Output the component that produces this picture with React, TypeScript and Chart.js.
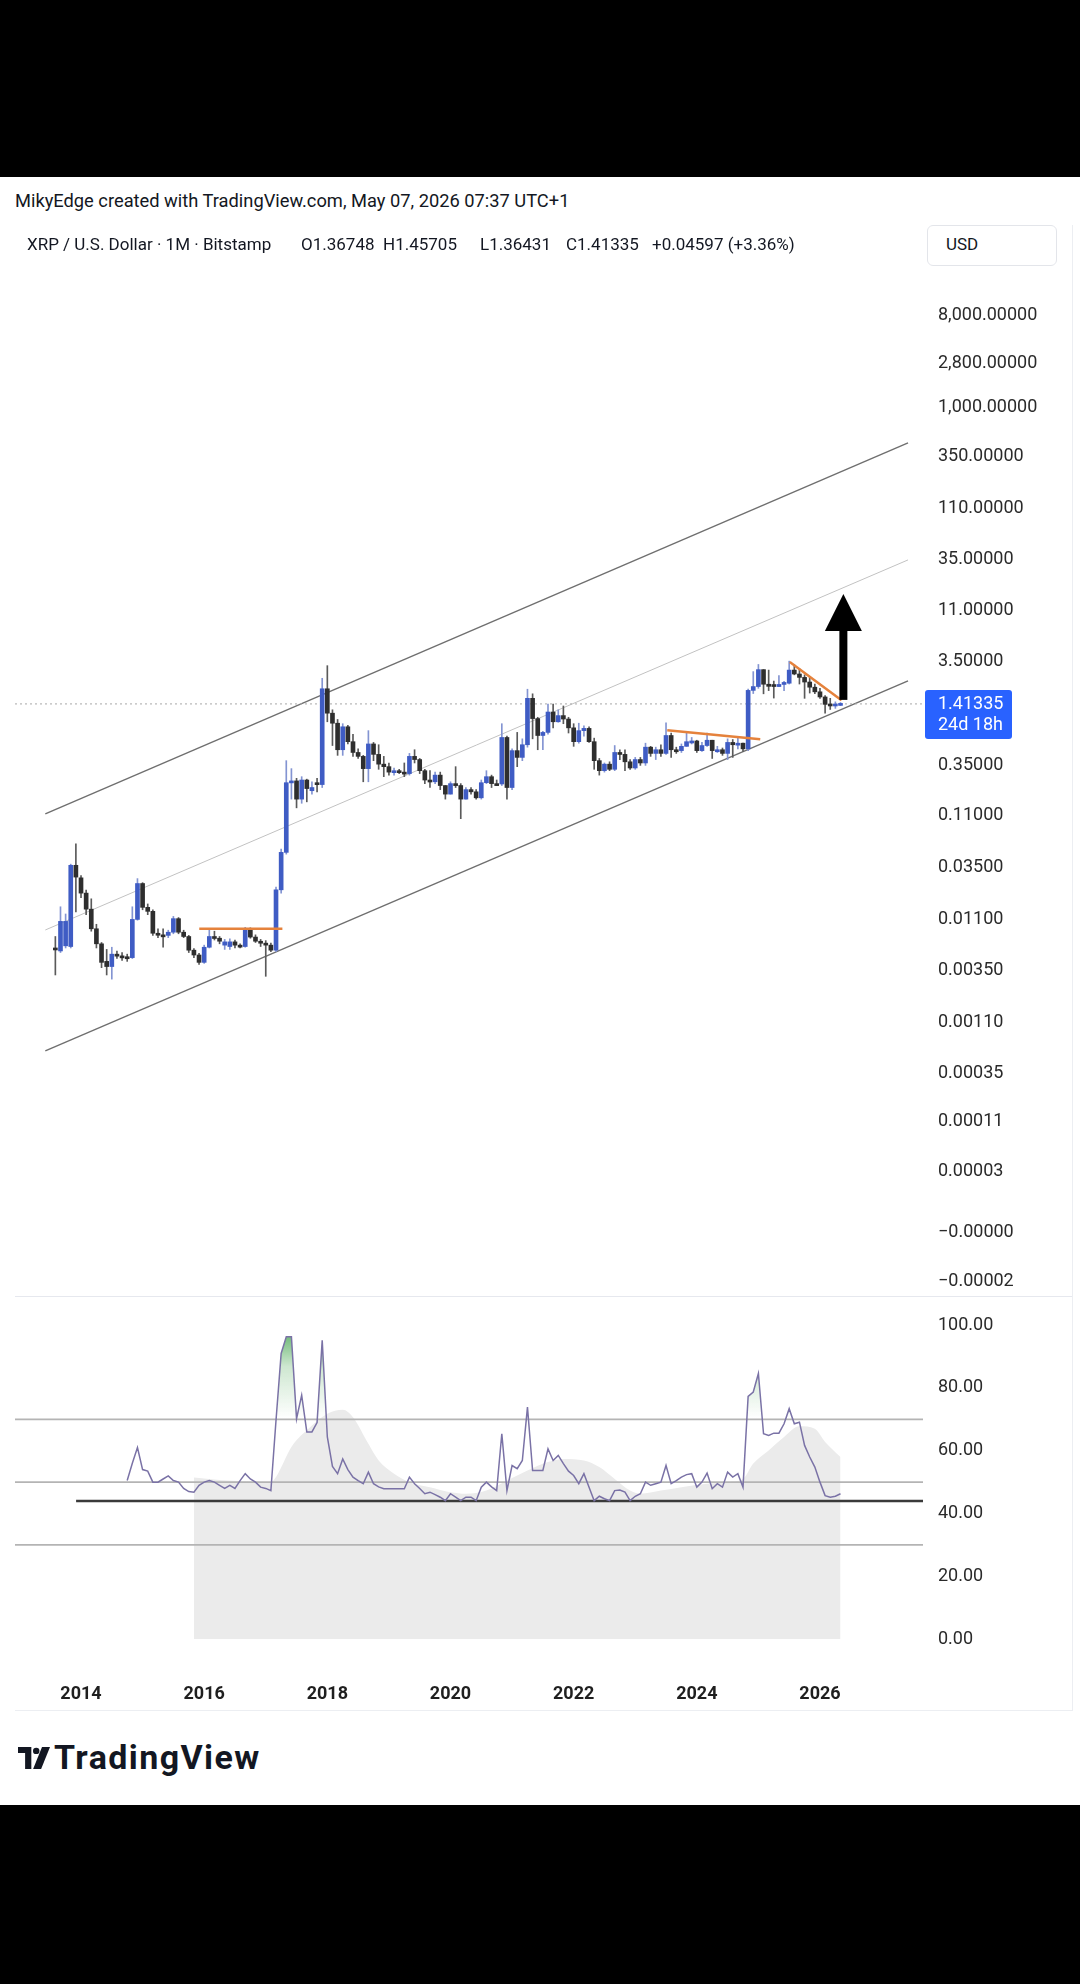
import React, { useEffect, useRef } from "react";
import { Chart, registerables } from "chart.js";

Chart.register(...registerables);
Chart.defaults.font.family = "Roboto, 'Liberation Sans', sans-serif";

// ---------------- data ----------------
const FIRST_MONTH = "2013-08";

const OPEN = [
  0.0062, 0.0058, 0.0065, 0.0064, 0.039,
  0.0295, 0.021, 0.0147, 0.0095, 0.0068, 0.0046, 0.0041, 0.0054, 0.0052, 0.0051, 0.005, 0.0117,
  0.026, 0.0153, 0.014, 0.0086, 0.0083, 0.0082, 0.0088, 0.0119, 0.0088, 0.008, 0.0059, 0.0053,
  0.0045, 0.0063, 0.008, 0.0077, 0.0066, 0.0064, 0.0071, 0.0066, 0.0064, 0.0094, 0.0079, 0.0072,
  0.0069, 0.0066, 0.0059, 0.0226, 0.052, 0.245, 0.255, 0.17, 0.26, 0.205, 0.245, 0.235,
  1.98, 1.15, 0.92, 0.51, 0.85, 0.61, 0.48, 0.44, 0.335, 0.58, 0.46, 0.37,
  0.35, 0.31, 0.32, 0.31, 0.3, 0.44, 0.41, 0.32, 0.26, 0.25, 0.29, 0.23,
  0.19, 0.24, 0.23, 0.17, 0.21, 0.2, 0.175, 0.245, 0.28, 0.24, 0.238, 0.67,
  0.22, 0.5, 0.43, 0.57, 1.6, 1.02, 0.7, 0.75, 1.18, 0.95, 1.09, 1.01,
  0.83, 0.61, 0.78, 0.82, 0.61, 0.4, 0.32, 0.37, 0.33, 0.48, 0.46, 0.39,
  0.34, 0.41, 0.38, 0.54, 0.47, 0.51, 0.47, 0.7, 0.51, 0.5, 0.55, 0.61,
  0.62, 0.5, 0.56, 0.63, 0.5, 0.51, 0.47, 0.6, 0.57, 0.59, 0.52, 1.91,
  2.08, 3.03, 2.19, 2.09, 2.08, 2.18, 2.24, 3.0, 2.75, 2.55, 2.3, 2.05,
  1.85, 1.65, 1.4, 1.35, 1.36748,
];
const HIGH = [
  0.008, 0.0155, 0.0132, 0.04, 0.063,
  0.031, 0.0225, 0.0185, 0.0105, 0.007, 0.006, 0.0063, 0.0058, 0.0056, 0.0054, 0.0155, 0.029,
  0.0265, 0.0165, 0.0145, 0.0095, 0.0095, 0.0092, 0.0125, 0.0122, 0.0092, 0.0082, 0.0061, 0.0055,
  0.0066, 0.0092, 0.009, 0.008, 0.0075, 0.0076, 0.0074, 0.0068, 0.0098, 0.0097, 0.0083, 0.0075,
  0.0073, 0.0069, 0.024, 0.056, 0.4, 0.335, 0.27, 0.28, 0.265, 0.25, 0.27, 2.5,
  3.31, 1.24, 1.0, 0.91, 0.88, 0.72, 0.52, 0.45, 0.78, 0.6, 0.57, 0.44,
  0.38, 0.34, 0.33, 0.38, 0.47, 0.51, 0.42, 0.33, 0.32, 0.31, 0.31, 0.23,
  0.25, 0.35, 0.24, 0.22, 0.22, 0.21, 0.26, 0.32, 0.29, 0.26, 0.91, 0.69,
  0.52, 0.75, 0.65, 1.96, 1.77, 1.05, 0.77, 1.41, 1.41, 1.24, 1.35, 1.05,
  0.91, 0.92, 0.87, 0.85, 0.66, 0.42, 0.38, 0.39, 0.56, 0.51, 0.51, 0.41,
  0.43, 0.43, 0.59, 0.55, 0.54, 0.57, 0.93, 0.74, 0.54, 0.58, 0.74, 0.67,
  0.63, 0.6, 0.74, 0.63, 0.55, 0.53, 0.65, 0.64, 0.66, 0.59, 1.97, 2.9,
  3.4, 3.03, 3.0, 2.35, 2.65, 2.34, 3.66, 3.38, 3.1, 2.7, 2.6, 2.2,
  2.0, 1.7, 1.6, 1.48, 1.45705,
];
const LOW = [
  0.0034, 0.0056, 0.0062, 0.0062, 0.0138,
  0.019, 0.013, 0.009, 0.0062, 0.004, 0.0034, 0.0031, 0.0049, 0.0047, 0.0046, 0.0049, 0.0115,
  0.0145, 0.013, 0.0082, 0.0078, 0.0063, 0.0078, 0.0085, 0.0085, 0.0078, 0.0056, 0.005, 0.0043,
  0.0044, 0.0062, 0.0074, 0.0068, 0.006, 0.006, 0.0062, 0.0062, 0.0063, 0.0077, 0.007, 0.0064,
  0.0033, 0.0057, 0.0057, 0.021, 0.05, 0.17, 0.14, 0.155, 0.16, 0.19, 0.2, 0.22,
  0.95, 0.56, 0.45, 0.45, 0.58, 0.44, 0.42, 0.25, 0.25, 0.4, 0.33, 0.28,
  0.29, 0.29, 0.3, 0.28, 0.29, 0.38, 0.3, 0.24, 0.22, 0.24, 0.21, 0.17,
  0.19, 0.22, 0.11, 0.17, 0.19, 0.17, 0.17, 0.24, 0.22, 0.23, 0.23, 0.17,
  0.21, 0.35, 0.4, 0.54, 0.65, 0.51, 0.51, 0.72, 0.83, 0.94, 0.91, 0.74,
  0.55, 0.59, 0.69, 0.6, 0.33, 0.29, 0.31, 0.32, 0.32, 0.41, 0.32, 0.33,
  0.33, 0.36, 0.36, 0.44, 0.41, 0.44, 0.46, 0.43, 0.47, 0.48, 0.55, 0.58,
  0.48, 0.49, 0.55, 0.42, 0.48, 0.45, 0.41, 0.43, 0.52, 0.49, 0.5, 1.78,
  2.0, 1.77, 1.9, 1.61, 2.07, 1.9, 2.2, 2.7, 2.2, 1.6, 1.8, 1.78,
  1.6, 1.15, 1.25, 1.28, 1.36431,
];
const CLOSE = [
  0.006, 0.0112, 0.0112, 0.039, 0.03,
  0.021, 0.0147, 0.0095, 0.0068, 0.0045, 0.0041, 0.0054, 0.0052, 0.0051, 0.005, 0.0117, 0.026,
  0.0153, 0.014, 0.0086, 0.0083, 0.0082, 0.0088, 0.0119, 0.0088, 0.008, 0.0059, 0.0053, 0.0045,
  0.0063, 0.008, 0.0077, 0.0072, 0.0071, 0.0071, 0.0066, 0.0065, 0.0094, 0.0079, 0.0072, 0.0069,
  0.0066, 0.0059, 0.0226, 0.052, 0.245, 0.255, 0.17, 0.26, 0.215, 0.22, 0.235, 1.98,
  1.15, 0.92, 0.51, 0.85, 0.61, 0.48, 0.44, 0.335, 0.58, 0.46, 0.37, 0.35,
  0.31, 0.32, 0.31, 0.3, 0.44, 0.41, 0.32, 0.26, 0.25, 0.29, 0.23, 0.19,
  0.24, 0.23, 0.17, 0.21, 0.2, 0.175, 0.245, 0.28, 0.24, 0.238, 0.67, 0.22,
  0.5, 0.43, 0.57, 1.6, 1.02, 0.7, 0.75, 1.18, 0.95, 1.09, 1.01, 0.83,
  0.61, 0.78, 0.82, 0.61, 0.4, 0.32, 0.37, 0.33, 0.48, 0.46, 0.39, 0.34,
  0.41, 0.38, 0.54, 0.47, 0.51, 0.47, 0.7, 0.51, 0.5, 0.55, 0.61, 0.62,
  0.5, 0.56, 0.63, 0.5, 0.51, 0.47, 0.6, 0.57, 0.59, 0.52, 1.91, 2.08,
  3.03, 2.19, 2.09, 2.08, 2.18, 2.24, 3.0, 2.75, 2.55, 2.3, 2.05, 1.85,
  1.65, 1.4, 1.35, 1.3675, 1.41335,
];

const LAST_PRICE = 1.41335;
const COUNTDOWN = "24d 18h";

const RSI_START = "2014-10";
const RSI = [
  50.5, 56, 61,
  54, 53.5, 50, 50, 51, 52, 50.5, 50, 48, 47, 46.8, 49,
  50, 50.5, 50, 49, 48, 49, 48, 50.5, 52.7, 51, 50, 48.4,
  48, 47.3, 69.7, 91, 96.3, 96.3, 70.2, 77.7, 66, 66, 69, 95.2,
  64.4, 55, 52.7, 57.4, 54, 51.6, 50.5, 49.5, 53.2, 49.5, 48.5, 47.9,
  47.9, 47.9, 47.9, 47.9, 51.6, 49.5, 48, 46.3, 46.8, 46, 45.2, 44.1,
  46.3, 45.2, 44.1, 45.2, 45.2, 44.1, 48.4, 50, 48.5, 47.3, 65.4, 47.3,
  55.3, 54.3, 56.9, 73.9, 53.7, 53.7, 53.7, 60.6, 56.9, 58.5, 55.9, 53.5,
  52.1, 49.5, 52.7, 48.4, 44.1, 45.5, 44.7, 44.1, 47.3, 47.5, 46.8, 44.1,
  45.5, 46.3, 50, 49, 49.5, 50, 55.3, 49.5, 50.5, 51.6, 52.4, 52.7,
  48.4, 50, 52.9, 47.9, 49.5, 48.4, 53.2, 51.6, 52.7, 48.4, 77.3, 78.7,
  84.6, 65.4, 64.9, 65.6, 65.6, 68.6, 73.4, 68.6, 69.1, 61.7, 58, 54.8,
  50, 45.7, 45.2, 45.5, 46.3,
];

const RSI_MA_MONTHS = [
  "2015-11", "2016-04", "2016-09", "2017-02", "2017-03", "2017-06", "2017-09", "2018-01",
  "2018-04", "2018-06", "2018-09", "2018-11", "2019-02", "2019-05", "2019-09", "2020-01",
  "2020-04", "2020-08", "2020-12", "2021-04", "2021-08", "2021-11", "2022-03", "2022-06",
  "2022-09", "2022-12", "2023-02", "2023-06", "2023-10", "2024-03", "2024-07", "2024-10",
  "2024-12", "2025-03", "2025-06", "2025-09", "2025-12", "2026-02", "2026-05",
];
const RSI_MA = [
  51.5, 50.7, 50.3, 50, 51.6, 61.2, 66.5, 71.8,
  73.1, 70.7, 62.2, 56.9, 52.7, 50, 48.4, 46.8,
  46.3, 47.3, 50.5, 53.7, 56.4, 57.4, 56.9, 54.8,
  51, 47.3, 46.3, 47.3, 48.4, 49.5, 50, 51,
  55.9, 60.1, 64.4, 67.8, 67, 62.8, 58,
];

const RSI_LEVELS = [70, 50, 30];
const RSI_SUPPORT = 44;
const RSI_SUPPORT_FROM = 2013.92;

const PRICE_TICK_LABELS = [
  "8,000.00000", "2,800.00000", "1,000.00000", "350.00000", "110.00000", "35.00000",
  "11.00000", "3.50000", "0.35000", "0.11000", "0.03500", "0.01100", "0.00350",
  "0.00110", "0.00035", "0.00011", "0.00003", "\u22120.00000", "\u22120.00002",
];
// axis value (log10 of price) at which each label sits
const PRICE_TICK_LEVELS = [
  3.899, 3.435, 3.01, 2.536, 2.034, 1.541, 1.049, 0.556, -0.449, -0.932, -1.435,
  -1.937, -2.43, -2.923, -3.416, -3.884, -4.363, -4.952, -5.435,
];
const RSI_TICKS = [0, 20, 40, 60, 80, 100];
const YEAR_TICKS = [2014, 2016, 2018, 2020, 2022, 2024, 2026];

// channel (dates as decimal years, prices)
const CHANNEL_X = [2013.42, 2027.43];
const CHANNEL_UPPER = [0.1222, 470];
const CHANNEL_MID = [0.00925, 34.8];
const CHANNEL_LOWER = [0.000627, 2.355];

// orange trend lines
const TREND_2016_X = [2015.92, 2017.27];
const TREND_2016_Y = [0.0095, 0.0095];
const TREND_2024_X = [2023.52, 2025.03];
const TREND_2024_Y = [0.787, 0.644];
const TREND_2025_X = [2025.51, 2026.35];
const TREND_2025_Y = [3.6, 1.535];

// arrow annotation
const ARROW_X = 2026.38;
const ARROW_FROM = 1.546;
const ARROW_TO = 16.3;

const XMIN = 2012.928;
const XMAX = 2027.673;

// ---------------- helpers ----------------
const lg = (v: number) => Math.log10(v);
const ym = (s: string) => {
  const [y, m] = s.split("-").map(Number);
  return y + (m - 1) / 12;
};
const noPad = (ax: any) => {
  ax.paddingTop = 0;
  ax.paddingBottom = 0;
  ax.paddingLeft = 0;
  ax.paddingRight = 0;
};

function priceConfig(): any {
  const t0 = ym(FIRST_MONTH);
  const xs = OPEN.map((_, i) => t0 + i / 12);
  const up = OPEN.map((o, i) => CLOSE[i] >= o);

  const seg = (xArr: number[], yArr: number[], color: string, width: number, order: number, dash: number[] = []) => ({
    type: "line",
    data: xArr.map((x, i) => ({ x, y: lg(yArr[i]) })),
    borderColor: color,
    borderWidth: width,
    borderDash: dash,
    pointRadius: 0,
    fill: false,
    order,
  });

  const annot = {
    id: "annot",
    afterDatasetsDraw(chart: any) {
      const { ctx, scales } = chart;
      const px = scales.x.getPixelForValue(ARROW_X);
      const yb = scales.y.getPixelForValue(lg(ARROW_FROM));
      const yt = scales.y.getPixelForValue(lg(ARROW_TO));
      const headH = 37, headW = 18.5, shaftW = 8;
      ctx.save();
      ctx.fillStyle = "#000";
      ctx.fillRect(px - shaftW / 2, yt + headH - 1, shaftW, yb - (yt + headH - 1));
      ctx.beginPath();
      ctx.moveTo(px, yt);
      ctx.lineTo(px + headW, yt + headH);
      ctx.lineTo(px - headW, yt + headH);
      ctx.closePath();
      ctx.fill();
      ctx.restore();
    },
    afterDraw(chart: any) {
      const { ctx, scales, chartArea } = chart;
      const py = scales.y.getPixelForValue(lg(LAST_PRICE));
      const left = chartArea.right + 2;
      ctx.save();
      ctx.fillStyle = "#2962ff";
      const w = 87, top = py - 14, h = 49, r = 3;
      ctx.beginPath();
      ctx.moveTo(left + r, top);
      ctx.lineTo(left + w - r, top);
      ctx.quadraticCurveTo(left + w, top, left + w, top + r);
      ctx.lineTo(left + w, top + h - r);
      ctx.quadraticCurveTo(left + w, top + h, left + w - r, top + h);
      ctx.lineTo(left + r, top + h);
      ctx.quadraticCurveTo(left, top + h, left, top + h - r);
      ctx.lineTo(left, top + r);
      ctx.quadraticCurveTo(left, top, left + r, top);
      ctx.fill();
      ctx.fillStyle = "#ffffff";
      ctx.font = "18px Roboto, sans-serif";
      ctx.textBaseline = "middle";
      ctx.textAlign = "left";
      ctx.fillText(LAST_PRICE.toFixed(5), left + 13, py + 1);
      ctx.fillText(COUNTDOWN, left + 13, py + 22);
      ctx.restore();
    },
  };

  return {
    type: "bar",
    data: {
      datasets: [
        seg(CHANNEL_X, CHANNEL_UPPER, "#6f6f6f", 1.4, 6),
        seg(CHANNEL_X, CHANNEL_MID, "#c2c2c2", 1, 6),
        seg(CHANNEL_X, CHANNEL_LOWER, "#6f6f6f", 1.4, 6),
        seg([XMIN, XMAX], [LAST_PRICE, LAST_PRICE], "#a8a8a8", 1, 5, [2, 3]),
        {
          type: "bar",
          data: xs.map((x, i) => ({ x, y: [lg(LOW[i]), lg(HIGH[i])] })),
          backgroundColor: up.map((u) => (u ? "#8394d2" : "#5a5a5a")),
          barThickness: 1,
          grouped: false,
          order: 3,
        },
        {
          type: "bar",
          data: xs.map((x, i) => ({ x, y: [lg(OPEN[i]), lg(CLOSE[i])] })),
          backgroundColor: up.map((u) => (u ? "#3f5cc4" : "#2e2e2e")),
          barThickness: 4,
          minBarLength: 2,
          grouped: false,
          order: 2,
        },
        seg(TREND_2016_X, TREND_2016_Y, "#e5823c", 2.5, 1),
        seg(TREND_2024_X, TREND_2024_Y, "#e5823c", 2.5, 1),
        seg(TREND_2025_X, TREND_2025_Y, "#e5823c", 2.5, 1),
      ],
    },
    options: {
      responsive: false,
      maintainAspectRatio: false,
      animation: false,
      layout: { padding: { left: 15, top: 37, right: 0, bottom: 0 } },
      plugins: { legend: { display: false }, tooltip: { enabled: false } },
      scales: {
        x: { type: "linear", min: XMIN, max: XMAX, display: false, offset: false },
        y: {
          type: "linear",
          position: "right",
          min: -5.58,
          max: 4.42,
          grid: { display: false, drawTicks: false },
          border: { display: false },
          afterBuildTicks: (ax: any) => {
            ax.ticks = PRICE_TICK_LEVELS.map((v) => ({ value: v }));
          },
          afterFit: (ax: any) => {
            ax.width = 157;
            noPad(ax);
          },
          ticks: {
            autoSkip: false,
            padding: 15,
            color: "#2a2a2a",
            font: { size: 18 },
            callback: (_v: any, i: number) => PRICE_TICK_LABELS[i],
          },
        },
      },
    },
    plugins: [annot],
  };
}

function rsiConfig(): any {
  const r0 = ym(RSI_START);
  return {
    type: "line",
    data: {
      datasets: [
        {
          data: RSI_MA_MONTHS.map((m, i) => ({ x: ym(m), y: RSI_MA[i] })),
          borderWidth: 0,
          borderColor: "rgba(0,0,0,0)",
          backgroundColor: "#ebebeb",
          fill: { value: 0 },
          cubicInterpolationMode: "monotone",
          pointRadius: 0,
          order: 6,
        },
        ...RSI_LEVELS.map((lv) => ({
          data: [{ x: XMIN, y: lv }, { x: XMAX, y: lv }],
          borderColor: "#b4b4b4",
          borderWidth: 1.6,
          pointRadius: 0,
          fill: false,
          order: 4,
        })),
        {
          data: [{ x: RSI_SUPPORT_FROM, y: RSI_SUPPORT }, { x: XMAX, y: RSI_SUPPORT }],
          borderColor: "#3a3a3a",
          borderWidth: 2.6,
          pointRadius: 0,
          fill: false,
          order: 3,
        },
        {
          data: RSI.map((v, i) => ({ x: r0 + i / 12, y: v })),
          borderColor: "#7a72a6",
          borderWidth: 1.5,
          pointRadius: 0,
          fill: false,
          order: 1,
        },
      ],
    },
    options: {
      responsive: false,
      maintainAspectRatio: false,
      animation: false,
      layout: { padding: { left: 15, top: 0, right: 0, bottom: 0 } },
      plugins: { legend: { display: false }, tooltip: { enabled: false } },
      scales: {
        x: {
          type: "linear",
          min: XMIN,
          max: XMAX,
          offset: false,
          grid: { display: false, drawTicks: false },
          border: { display: false },
          afterBuildTicks: (ax: any) => {
            ax.ticks = YEAR_TICKS.map((v) => ({ value: v }));
          },
          afterFit: (ax: any) => {
            ax.height = 50;
            noPad(ax);
          },
          ticks: {
            autoSkip: false,
            maxRotation: 0,
            padding: 24,
            color: "#1f1f1f",
            font: { size: 18, weight: "bold" },
            callback: (v: any) => String(v),
          },
        },
        y: {
          type: "linear",
          position: "right",
          min: -6.667,
          max: 108.571,
          grid: { display: false, drawTicks: false },
          border: { display: false },
          afterBuildTicks: (ax: any) => {
            ax.ticks = RSI_TICKS.map((v) => ({ value: v }));
          },
          afterFit: (ax: any) => {
            ax.width = 157;
            noPad(ax);
          },
          ticks: {
            autoSkip: false,
            padding: 15,
            color: "#2a2a2a",
            font: { size: 18 },
            callback: (v: any) => Number(v).toFixed(2),
          },
        },
      },
    },
  };
}

export default function App() {
  const priceRef = useRef<HTMLCanvasElement>(null);
  const rsiRef = useRef<HTMLCanvasElement>(null);

  useEffect(() => {
    const pc = new Chart(priceRef.current as HTMLCanvasElement, priceConfig());
    const rc = new Chart(rsiRef.current as HTMLCanvasElement, rsiConfig());
    const ys: any = rc.scales.y;
    const g = rc.ctx.createLinearGradient(0, ys.getPixelForValue(100), 0, ys.getPixelForValue(70));
    g.addColorStop(0, "rgba(60,160,70,0.9)");
    g.addColorStop(0.45, "rgba(60,160,70,0.25)");
    g.addColorStop(1, "rgba(60,160,70,0)");
    const rsiDs: any = rc.data.datasets[rc.data.datasets.length - 1];
    rsiDs.fill = { value: 70, above: g, below: "rgba(0,0,0,0)" };
    rc.update("none");
    return () => {
      pc.destroy();
      rc.destroy();
    };
  }, []);

  const txt: React.CSSProperties = {
    position: "absolute",
    whiteSpace: "nowrap",
    color: "#131722",
    fontFamily: "Roboto, sans-serif",
  };

  return (
    <div
      style={{
        position: "absolute",
        left: 0,
        top: 0,
        width: 1080,
        height: 1984,
        background: "#ffffff",
        overflow: "hidden",
        fontFamily: "Roboto, sans-serif",
      }}
    >
      <div style={{ position: "absolute", left: 0, top: 0, width: 1080, height: 177, background: "#000" }} />
      <div style={{ position: "absolute", left: 0, top: 1805, width: 1080, height: 179, background: "#000" }} />

      <canvas
        ref={priceRef}
        width={1080}
        height={1072}
        style={{ position: "absolute", left: 0, top: 225, width: 1080, height: 1072 }}
      />
      <canvas
        ref={rsiRef}
        width={1080}
        height={413}
        style={{ position: "absolute", left: 0, top: 1297, width: 1080, height: 413 }}
      />

      {/* pane borders */}
      <div style={{ position: "absolute", left: 15, top: 1296, width: 1057, height: 1, background: "#e6e8ee" }} />
      <div style={{ position: "absolute", left: 15, top: 1710, width: 1057, height: 1, background: "#eceef2" }} />
      <div style={{ position: "absolute", left: 1072, top: 225, width: 1, height: 1486, background: "#eceef2" }} />

      {/* header */}
      <div style={{ ...txt, left: 15, top: 190, fontSize: 18.3, lineHeight: "22px" }}>
        MikyEdge created with TradingView.com, May 07, 2026 07:37 UTC+1
      </div>
      <div style={{ ...txt, left: 27, top: 233, fontSize: 17, lineHeight: "22px" }}>
        XRP / U.S. Dollar · 1M · Bitstamp
      </div>
      <div style={{ ...txt, left: 301, top: 233, fontSize: 17, lineHeight: "22px" }}>O1.36748</div>
      <div style={{ ...txt, left: 383, top: 233, fontSize: 17, lineHeight: "22px" }}>H1.45705</div>
      <div style={{ ...txt, left: 480, top: 233, fontSize: 17, lineHeight: "22px" }}>L1.36431</div>
      <div style={{ ...txt, left: 566, top: 233, fontSize: 17, lineHeight: "22px" }}>C1.41335</div>
      <div style={{ ...txt, left: 652, top: 233, fontSize: 17, lineHeight: "22px" }}>+0.04597 (+3.36%)</div>

      <div
        style={{
          position: "absolute",
          left: 927,
          top: 225,
          width: 130,
          height: 41,
          boxSizing: "border-box",
          border: "1px solid #e3e5ea",
          borderRadius: 6,
          background: "#fff",
        }}
      />
      <div style={{ ...txt, left: 946, top: 233, fontSize: 17, lineHeight: "22px" }}>USD</div>

      {/* TradingView logo */}
      <svg
        style={{ position: "absolute", left: 18, top: 1746 }}
        width={32}
        height={24}
        viewBox="0 0 36 27"
      >
        <path d="M0 1 H15 V26 H8 V8 H0 Z" fill="#131722" />
        <circle cx={20.5} cy={5.5} r={3.6} fill="#131722" />
        <path d="M27 1 H36 L26 26 H17 Z" fill="#131722" />
      </svg>
      <div style={{ ...txt, left: 54, top: 1737, fontSize: 34, lineHeight: "40px", fontWeight: 700, letterSpacing: 1.4 }}>
        TradingView
      </div>
    </div>
  );
}
